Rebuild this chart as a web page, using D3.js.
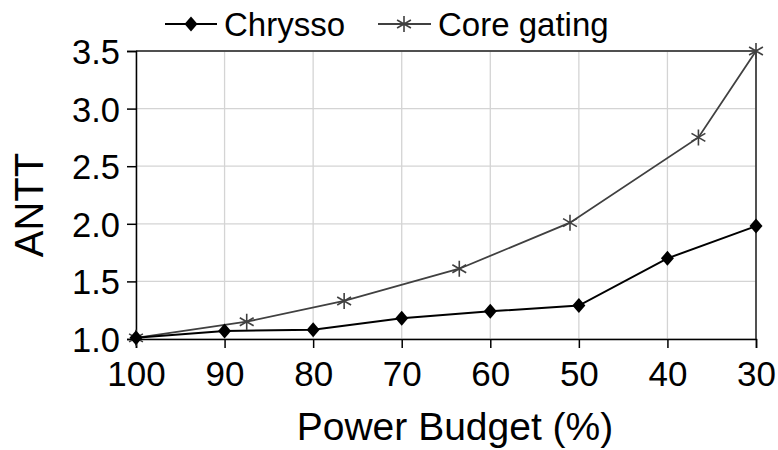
<!DOCTYPE html>
<html>
<head>
<meta charset="utf-8">
<script src="https://cdn.jsdelivr.net/npm/d3@7"></script>
<style>
  html, body { margin: 0; padding: 0; background: #fff; }
  svg { display: block; font-family: "Liberation Sans", Arial, sans-serif; }
</style>
</head>
<body>
<svg id="chart" width="778" height="450"></svg>
<script>
// Power budget (%) on the x axis, ANTT on the y axis
const chryssoBudget = [100, 90, 80, 70, 60, 50, 40, 30];
const chryssoANTT   = [1.01, 1.07, 1.08, 1.18, 1.24, 1.29, 1.70, 1.98];

const gatingBudget = [100, 87.5, 76.5, 63.5, 51, 36.5, 30];
const gatingANTT   = [1.01, 1.15, 1.33, 1.61, 2.01, 2.75, 3.5];

const xTicks = [100, 90, 80, 70, 60, 50, 40, 30];
const yTicks = [1.0, 1.5, 2.0, 2.5, 3.0, 3.5];

const seriesNames = ["Chrysso", "Core gating"];

const svg = d3.select("#chart");
const plot = { left: 136, right: 756, top: 51, bottom: 339 };

const x = d3.scaleLinear().domain([100, 30]).range([plot.left, plot.right]);
const y = d3.scaleLinear().domain([1.0, 3.5]).range([plot.bottom, plot.top]);

// gridlines
const grid = svg.append("g");
grid.selectAll("line.v").data(xTicks).join("line")
  .attr("x1", d => x(d)).attr("x2", d => x(d))
  .attr("y1", plot.top).attr("y2", plot.bottom)
  .attr("stroke", "#d4d4d4").attr("stroke-width", 1.3);
grid.selectAll("line.h").data(yTicks).join("line")
  .attr("x1", plot.left).attr("x2", plot.right)
  .attr("y1", d => y(d)).attr("y2", d => y(d))
  .attr("stroke", "#d4d4d4").attr("stroke-width", 1.3);

// plot frame (top and right)
svg.append("path")
  .attr("d", `M${plot.left},${plot.top}H${plot.right}V${plot.bottom}`)
  .attr("fill", "none").attr("stroke", "#222").attr("stroke-width", 1.5);

// axes
const xAxis = d3.axisBottom(x).tickValues(xTicks).tickFormat(d3.format("d"))
  .tickSize(9).tickPadding(13);
const yAxis = d3.axisLeft(y).tickValues(yTicks).tickFormat(d3.format(".1f"))
  .tickSize(9).tickPadding(7);

const gx = svg.append("g").attr("transform", `translate(0,${plot.bottom})`).call(xAxis);
const gy = svg.append("g").attr("transform", `translate(${plot.left},0)`).call(yAxis);
[gx, gy].forEach(g => {
  g.select(".domain").attr("stroke", "#000").attr("stroke-width", 1.5);
  g.selectAll(".tick line").attr("stroke", "#000").attr("stroke-width", 1.5);
  g.selectAll("text").attr("fill", "#000")
    .style("font-family", "'Liberation Sans', Arial, sans-serif");
});
gx.selectAll("text").style("font-size", "35px");
gy.selectAll("text").style("font-size", "34.5px").attr("dy", "0.36em");

// axis titles
svg.append("text")
  .attr("x", 455).attr("y", 440)
  .attr("text-anchor", "middle").style("font-size", "39px").attr("fill", "#000")
  .text("Power Budget (%)");
svg.append("text")
  .attr("transform", "translate(43,205) rotate(-90)")
  .attr("text-anchor", "middle").style("font-size", "40px").attr("fill", "#000")
  .text("ANTT");

// marker shapes
function diamondPath(cx, cy, w, h) {
  return `M${cx},${cy - h}L${cx + w},${cy}L${cx},${cy + h}L${cx - w},${cy}Z`;
}
function star(g, cx, cy, r, color) {
  const a = r * 0.866, b = r * 0.5;
  g.append("path")
    .attr("d", `M${cx},${cy - r}V${cy + r}M${cx - a},${cy - b}L${cx + a},${cy + b}M${cx - a},${cy + b}L${cx + a},${cy - b}`)
    .attr("stroke", color).attr("stroke-width", 1.6).attr("fill", "none");
}

const line = d3.line().x(d => x(d[0])).y(d => y(d[1]));

// Core gating series
const gatingColor = "#404040";
const gatingPts = d3.zip(gatingBudget, gatingANTT);
svg.append("path").datum(gatingPts).attr("d", line)
  .attr("fill", "none").attr("stroke", gatingColor).attr("stroke-width", 1.8);
const gStars = svg.append("g");
gatingPts.forEach(d => star(gStars, x(d[0]), y(d[1]), 8, gatingColor));

// Chrysso series
const chryssoPts = d3.zip(chryssoBudget, chryssoANTT);
svg.append("path").datum(chryssoPts).attr("d", line)
  .attr("fill", "none").attr("stroke", "#000").attr("stroke-width", 2);
svg.append("g").selectAll("path").data(chryssoPts).join("path")
  .attr("d", d => diamondPath(x(d[0]), y(d[1]), 6.5, 7.5))
  .attr("fill", "#000");

// legend
const legend = svg.append("g");
legend.append("line").attr("x1", 165).attr("x2", 217).attr("y1", 24).attr("y2", 24)
  .attr("stroke", "#000").attr("stroke-width", 2);
legend.append("path").attr("d", diamondPath(191, 24, 6.5, 7.5)).attr("fill", "#000");
legend.append("text").attr("x", 224).attr("y", 36).style("font-size", "33px").attr("fill", "#000")
  .text(seriesNames[0]);

legend.append("line").attr("x1", 378).attr("x2", 431).attr("y1", 24).attr("y2", 24)
  .attr("stroke", gatingColor).attr("stroke-width", 1.8);
star(legend, 404, 24, 8, gatingColor);
legend.append("text").attr("x", 438).attr("y", 36).style("font-size", "33px").attr("fill", "#000")
  .text(seriesNames[1]);
</script>
</body>
</html>
